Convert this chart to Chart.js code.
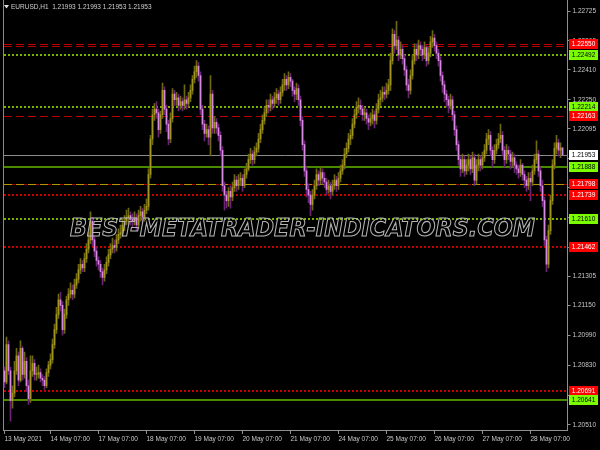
<!DOCTYPE html>
<html><head><meta charset="utf-8">
<script src="https://cdn.jsdelivr.net/npm/chart.js@4.4.0/dist/chart.umd.min.js"></script>
<style>html,body{margin:0;padding:0;background:#000;overflow:hidden}</style>
</head><body><canvas id="c" width="600" height="450"></canvas>
<script>
const symbolTitle = 'EURUSD,H1  1.21993 1.21993 1.21953 1.21953';
const firstOpen = 1.2080;
const closes = [
1.2074,1.2094,1.2080,1.2064,1.2068,1.2080,1.2088,1.2075,1.2092,1.2078,1.2085,1.2072,1.2065,1.2080,1.2084,1.2078,
1.2078,1.2079,1.2076,1.2075,1.2072,1.2079,1.2083,1.2086,1.2094,1.2102,1.2110,1.2118,1.2115,1.2102,1.2110,1.2118,1.2121,1.2123,1.2121,1.2126,1.2129,1.2134,1.2137,1.2135,
1.2140,1.2145,1.2150,1.2160,1.2150,1.2144,1.2139,1.2137,1.2133,1.2130,1.2134,1.2138,1.2142,1.2145,1.2147,1.2146,1.2150,1.2153,1.2154,1.2158,1.2160,1.2162,1.2163,1.2161,
1.2160,1.2162,1.2158,1.2163,1.2165,1.2162,1.2166,1.2168,1.2185,1.2204,1.2217,1.2220,1.2218,1.2209,1.2217,1.2230,1.2220,1.2212,1.2204,1.2215,1.2228,1.2225,1.2226,1.2222,
1.2224,1.2222,1.2225,1.2223,1.2226,1.2230,1.2236,1.2240,1.2243,1.2238,1.2220,1.2212,1.2207,1.2209,1.2205,1.2228,1.2210,1.2213,1.2210,1.2206,1.2198,1.2179,1.2174,1.2171,
1.2176,1.2173,1.2178,1.2182,1.2179,1.2182,1.2183,1.2179,1.2185,1.2188,1.2193,1.2196,1.2193,1.2197,1.2199,1.2204,1.2209,1.2214,1.2218,1.2222,1.2221,1.2225,1.2223,1.2226,
1.2228,1.2225,1.2229,1.2233,1.2236,1.2233,1.2237,1.2235,1.2230,1.2228,1.2231,1.2225,1.2214,1.2201,1.2187,1.2177,1.2174,1.2169,1.2174,1.2179,1.2185,1.2182,1.2186,1.2183,
1.2181,1.2177,1.2179,1.2176,1.2179,1.2182,1.2179,1.2183,1.2187,1.2190,1.2196,1.2199,1.2204,1.2206,1.2212,1.2217,1.2221,1.2222,1.2220,1.2217,1.2218,1.2215,1.2213,1.2215,
1.2217,1.2214,1.2220,1.2225,1.2226,1.2229,1.2228,1.2230,1.2233,1.2246,1.2260,1.2254,1.2257,1.2249,1.2252,1.2247,1.2241,1.2233,1.2230,1.2238,1.2246,1.2252,1.2249,1.2254,
1.2252,1.2249,1.2253,1.2246,1.2250,1.2256,1.2258,1.2254,1.2250,1.2246,1.2238,1.2233,1.2228,1.2225,1.2222,1.2225,1.2217,1.2209,1.2201,1.2193,1.2188,1.2193,1.2187,1.2190,
1.2193,1.2188,1.2194,1.2182,1.2190,1.2193,1.2190,1.2194,1.2198,1.2204,1.2206,1.2198,1.2193,1.2198,1.2201,1.2204,1.2206,1.2198,1.2193,1.2198,1.2196,1.2192,1.2194,1.2190,
1.2188,1.2186,1.2190,1.2185,1.2182,1.2179,1.2183,1.2181,1.2187,1.2193,1.2196,1.2187,1.2179,1.2171,1.2150,1.2137,1.2155,1.2171,1.2190,1.2199,1.2202,1.2198,1.21993,1.21953
];
const highs = [
1.2082,1.2098,1.2096,1.2082,1.2072,1.2085,1.2092,1.2090,1.2096,1.2093,1.2090,1.2087,1.2075,1.2088,1.2088,1.2086,
1.2082,1.2083,1.2081,1.2078,1.2077,1.2081,1.2085,1.2089,1.2097,1.2105,1.2114,1.2121,1.2122,1.2117,1.2113,1.2120,1.2124,1.2127,1.2126,1.2129,1.2132,1.2137,1.2140,1.2139,
1.2143,1.2148,1.2154,1.2165,1.2162,1.2152,1.2146,1.2141,1.2139,1.2135,1.2137,1.2141,1.2145,1.2148,1.2151,1.2150,1.2153,1.2156,1.2158,1.2161,1.2163,1.2166,1.2167,1.2165,
1.2164,1.2165,1.2164,1.2166,1.2168,1.2167,1.2169,1.2172,1.2188,1.2206,1.2220,1.2223,1.2224,1.2220,1.2219,1.2234,1.2232,1.2222,1.2214,1.2218,1.2231,1.2230,1.2229,1.2228,
1.2227,1.2226,1.2233,1.2227,1.2229,1.2233,1.2238,1.2243,1.2246,1.2245,1.2240,1.2222,1.2214,1.2212,1.2211,1.2238,1.2230,1.2216,1.2215,1.2212,1.2208,1.2200,1.2181,1.2176,
1.2178,1.2179,1.2181,1.2185,1.2184,1.2185,1.2186,1.2185,1.2188,1.2191,1.2196,1.2199,1.2198,1.2200,1.2202,1.2207,1.2212,1.2217,1.2221,1.2225,1.2225,1.2228,1.2227,1.2229,
1.2231,1.2230,1.2232,1.2236,1.2239,1.2238,1.2240,1.2239,1.2236,1.2232,1.2234,1.2233,1.2227,1.2216,1.2203,1.2189,1.2180,1.2176,1.2177,1.2182,1.2188,1.2187,1.2189,1.2188,
1.2186,1.2183,1.2182,1.2181,1.2182,1.2185,1.2184,1.2186,1.2190,1.2193,1.2199,1.2202,1.2207,1.2209,1.2215,1.2220,1.2224,1.2226,1.2225,1.2222,1.2221,1.2220,1.2217,1.2218,
1.2220,1.2219,1.2223,1.2228,1.2230,1.2232,1.2232,1.2234,1.2236,1.2250,1.2263,1.2262,1.2267,1.2259,1.2256,1.2254,1.2249,1.2243,1.2236,1.2241,1.2249,1.2255,1.2255,1.2257,
1.2256,1.2254,1.2256,1.2254,1.2253,1.2259,1.2262,1.2260,1.2256,1.2252,1.2248,1.2240,1.2235,1.2230,1.2227,1.2228,1.2227,1.2219,1.2211,1.2203,1.2195,1.2196,1.2195,1.2193,
1.2196,1.2195,1.2197,1.2196,1.2193,1.2196,1.2195,1.2197,1.2201,1.2207,1.2209,1.2208,1.2200,1.2201,1.2204,1.2207,1.2212,1.2208,1.2200,1.2201,1.2200,1.2198,1.2197,1.2196,
1.2192,1.2190,1.2193,1.2191,1.2187,1.2184,1.2186,1.2186,1.2190,1.2196,1.2203,1.2198,1.2189,1.2182,1.2173,1.2152,1.2158,1.2174,1.2193,1.2202,1.2206,1.2204,1.2202,1.21993
];
const lows = [
1.2071,1.2073,1.2078,1.2053,1.2060,1.2066,1.2078,1.2072,1.2074,1.2075,1.2076,1.2069,1.2062,1.2063,1.2077,1.2075,
1.2075,1.2076,1.2074,1.2072,1.2070,1.2071,1.2077,1.2081,1.2084,1.2092,1.2100,1.2108,1.2112,1.2099,1.2100,1.2108,1.2115,1.2119,1.2118,1.2119,1.2124,1.2127,1.2132,1.2133,
1.2133,1.2138,1.2143,1.2148,1.2147,1.2141,1.2136,1.2134,1.2130,1.2126,1.2128,1.2132,1.2136,1.2140,1.2143,1.2143,1.2144,1.2148,1.2151,1.2152,1.2155,1.2158,1.2159,1.2158,
1.2157,1.2158,1.2155,1.2156,1.2160,1.2159,1.2160,1.2164,1.2166,1.2183,1.2201,1.2214,1.2215,1.2205,1.2207,1.2215,1.2217,1.2208,1.2201,1.2202,1.2213,1.2222,1.2222,1.2219,
1.2220,1.2219,1.2220,1.2220,1.2221,1.2224,1.2228,1.2234,1.2237,1.2235,1.2217,1.2209,1.2203,1.2205,1.2201,1.2195,1.2207,1.2207,1.2207,1.2203,1.2195,1.2176,1.2166,1.2167,
1.2168,1.2167,1.2171,1.2176,1.2176,1.2177,1.2179,1.2176,1.2178,1.2183,1.2187,1.2191,1.2190,1.2191,1.2195,1.2197,1.2202,1.2207,1.2212,1.2216,1.2218,1.2219,1.2220,1.2221,
1.2223,1.2222,1.2223,1.2227,1.2230,1.2230,1.2231,1.2232,1.2227,1.2224,1.2225,1.2222,1.2211,1.2198,1.2184,1.2173,1.2170,1.2163,1.2166,1.2172,1.2177,1.2179,1.2180,1.2180,
1.2178,1.2174,1.2175,1.2172,1.2174,1.2177,1.2176,1.2177,1.2181,1.2185,1.2188,1.2194,1.2197,1.2201,1.2204,1.2210,1.2215,1.2218,1.2217,1.2214,1.2214,1.2212,1.2209,1.2211,
1.2212,1.2210,1.2212,1.2218,1.2222,1.2224,1.2225,1.2226,1.2228,1.2230,1.2244,1.2250,1.2252,1.2246,1.2247,1.2244,1.2238,1.2230,1.2226,1.2228,1.2236,1.2244,1.2246,1.2247,
1.2249,1.2246,1.2247,1.2243,1.2244,1.2248,1.2253,1.2251,1.2247,1.2243,1.2235,1.2229,1.2224,1.2221,1.2218,1.2220,1.2214,1.2206,1.2198,1.2190,1.2184,1.2186,1.2184,1.2185,
1.2187,1.2185,1.2186,1.2179,1.2180,1.2187,1.2187,1.2188,1.2192,1.2196,1.2201,1.2195,1.2189,1.2191,1.2196,1.2199,1.2202,1.2195,1.2189,1.2191,1.2193,1.2188,1.2189,1.2186,
1.2185,1.2183,1.2184,1.2182,1.2178,1.2176,1.2177,1.2171,1.2179,1.2185,1.2191,1.2184,1.2176,1.2168,1.2147,1.2133,1.2135,1.2153,1.2169,1.2188,1.2196,1.2195,1.2194,1.21953
];
const xTickIndex = [0,23,47,71,95,119,143,167,191,215,239,263];
const xTickText = ['13 May 2021','14 May 07:00','17 May 07:00','18 May 07:00','19 May 07:00','20 May 07:00','21 May 07:00','24 May 07:00','25 May 07:00','26 May 07:00','27 May 07:00','28 May 07:00'];
const yTickValues = [1.22725,1.22565,1.22410,1.22250,1.22095,1.21935,1.21780,1.21620,1.21460,1.21305,1.21150,1.20990,1.20830,1.20670,1.20510];
const yRange = [1.20483, 1.22784];
const levelValues = [1.22538,1.22550,1.22492,1.22214,1.22163,1.21953,1.21888,1.21798,1.21739,1.21610,1.21462,1.20691,1.20641];
const levelKinds  = ['redDash','redDash','greenDot','greenDot','redDash','bid','greenSolid','oliveDash','redDot','greenDot','redDot','redDot','greenSolid'];
const levelLabelShown = [false,true,true,true,true,true,true,true,true,true,true,true,true];
const watermark = 'BEST-METATRADER-INDICATORS.COM';

const STY = {
  redDash:   {line:'#b80000', dash:[8,4], w:1, box:'#ff0000', txt:'#ffffff'},
  redDot:    {line:'#c80000', dash:[2,2], w:2, box:'#ff0000', txt:'#ffffff'},
  greenDot:  {line:'#78b400', dash:[2,2], w:2, box:'#7cfc00', txt:'#000000'},
  greenSolid:{line:'#4a8a00', dash:[],    w:2, box:'#7cfc00', txt:'#000000'},
  bid:       {line:'#8c8c8c', dash:[],    w:1, box:'#ffffff', txt:'#000000'},
  oliveDash: {line:'#b09600', dash:[8,4], w:1, box:'#ff0000', txt:'#ffffff'}
};
const BULL_BODY='#a4961a', BEAR_BODY='#d88ae2', BULL_WICK='#6e6812', BEAR_WICK='#6c2474';

const opens = closes.map((c,i)=> i===0 ? firstOpen : closes[i-1]);
const labels = closes.map((_,i)=>String(i)).concat(['','']);
const bull = closes.map((c,i)=> c >= opens[i]);
const wickData = closes.map((c,i)=>[lows[i], highs[i]]);
const bodyData = closes.map((c,i)=>[Math.min(opens[i],c), Math.max(opens[i],c)]);
const xMap = {}; xTickIndex.forEach((v,k)=>xMap[v]=xTickText[k]);
const FONT = {family:'"Liberation Sans", Arial, sans-serif', size:6.5};

const mtPlugin = {
  id:'mt',
  beforeDraw(chart){
    const c=chart.ctx; c.save(); c.fillStyle='#000'; c.fillRect(0,0,chart.width,chart.height); c.restore();
  },
  beforeDatasetsDraw(chart){
    const c=chart.ctx, a=chart.chartArea, y=chart.scales.y;
    const x0=Math.ceil(a.left), x1=Math.floor(a.right);
    c.save();
    levelValues.forEach((v,k)=>{
      const s=STY[levelKinds[k]];
      const py = s.w===2 ? Math.round(y.getPixelForValue(v)) : Math.round(y.getPixelForValue(v))+0.5;
      c.strokeStyle=s.line; c.lineWidth=s.w; c.setLineDash(s.dash);
      c.beginPath(); c.moveTo(x0,py); c.lineTo(x1,py); c.stroke();
      if(levelKinds[k]==='oliveDash'){
        c.strokeStyle='#a00000'; c.setLineDash([3,9]); c.lineDashOffset=-8;
        c.beginPath(); c.moveTo(x0,py); c.lineTo(x1,py); c.stroke();
        c.lineDashOffset=0;
      }
    });
    c.setLineDash([]);
    c.strokeStyle='#8a8a8a'; c.lineWidth=1;
    c.beginPath(); c.moveTo(3.5,0); c.lineTo(3.5,a.bottom); c.stroke();
    c.restore();
  },
  afterDatasetsDraw(chart){
    const c=chart.ctx;
    c.save();
    c.font='italic bold 24px "DejaVu Sans", sans-serif';
    const w=c.measureText(watermark).width;
    const target=465;
    c.translate(70, 236);
    c.scale(target/w, 1);
    c.lineWidth=1.1; c.strokeStyle='#b4b4b4'; c.textBaseline='alphabetic';
    c.strokeText(watermark, 0, 0);
    c.restore();
  },
  afterDraw(chart){
    const c=chart.ctx, y=chart.scales.y;
    c.save();
    c.font='6.5px "Liberation Sans", Arial, sans-serif';
    c.textBaseline='middle'; c.textAlign='center';
    levelValues.forEach((v,k)=>{
      if(!levelLabelShown[k]) return;
      const s=STY[levelKinds[k]];
      const py=Math.round(y.getPixelForValue(v));
      c.fillStyle=s.box; c.fillRect(569, py-5, 29, 10);
      c.fillStyle=s.txt; c.fillText(v.toFixed(5), 583.5, py+0.5);
    });
    c.fillStyle='#e0e0e0';
    c.beginPath(); c.moveTo(4,5); c.lineTo(9,5); c.lineTo(6.5,8.5); c.closePath(); c.fill();
    c.fillStyle='#d0d0d0'; c.textAlign='left'; c.font='6.5px "Liberation Sans", Arial, sans-serif';
    c.fillText(symbolTitle, 11, 7);
    c.restore();
  }
};

new Chart(document.getElementById('c'), {
  type:'bar',
  data:{ labels, datasets:[
    { data: wickData, backgroundColor: bull.map(b=>b?BULL_WICK:BEAR_WICK), barThickness:1, grouped:false, order:2, borderWidth:0 },
    { data: bodyData, backgroundColor: bull.map(b=>b?BULL_BODY:BEAR_BODY), barThickness:1, grouped:false, order:1, borderWidth:0, minBarLength:1 }
  ]},
  options:{
    responsive:false, animation:false, devicePixelRatio:1,
    layout:{padding:{left:3.5, right:0, top:0, bottom:0}},
    plugins:{legend:{display:false}, tooltip:{enabled:false}},
    scales:{
      x:{ type:'category', offset:true,
          afterBuildTicks:s=>{ s.ticks = xTickIndex.map(v=>({value:v})); },
          afterFit:s=>{ s.height=20; s.paddingLeft=0; s.paddingRight=0; },
          grid:{offset:false, drawOnChartArea:false, color:'#909090', tickLength:4},
          border:{color:'#909090'},
          ticks:{autoSkip:false, maxRotation:0, minRotation:0, align:'start', padding:1, color:'#c8c8c8', font:FONT,
                 callback:(v)=> xMap[v] ?? ''} },
      y:{ type:'linear', position:'right', min:yRange[0], max:yRange[1],
          afterBuildTicks:s=>{ s.ticks = yTickValues.map(v=>({value:v})); },
          afterFit:s=>{ s.width=32.5; s.paddingTop=0; s.paddingBottom=0; },
          grid:{drawOnChartArea:false, color:'#909090', tickLength:3},
          border:{color:'#909090'},
          ticks:{color:'#c8c8c8', font:FONT, padding:2, callback:v=>Number(v).toFixed(5)} }
    }
  },
  plugins:[mtPlugin]
});
</script></body></html>
